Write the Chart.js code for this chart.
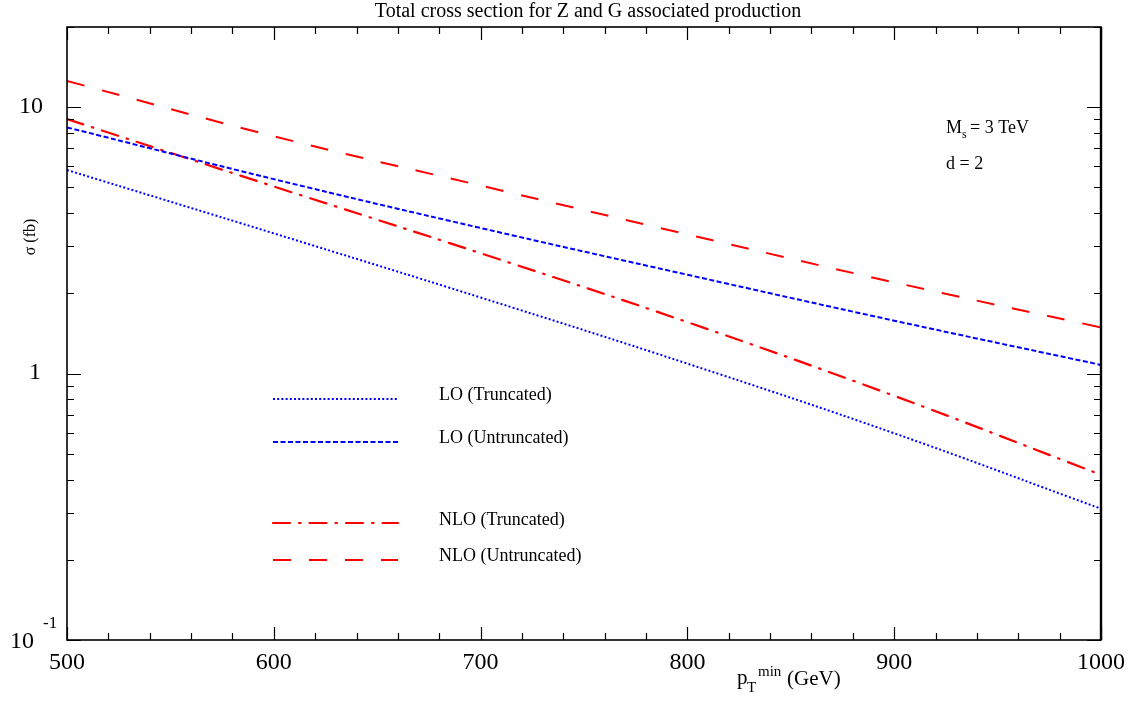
<!DOCTYPE html>
<html>
<head>
<meta charset="utf-8">
<script src="https://cdn.jsdelivr.net/npm/chart.js@4.4.1/dist/chart.umd.min.js"></script>
<style>
html,body{margin:0;padding:0;background:#fff;}
canvas{display:block;}
</style>
</head>
<body>
<canvas id="xsec" width="1135" height="704"></canvas>
<script>
// =============================
// data
// =============================
const ptMin = [500, 600, 700, 800, 900, 1000];

const loTruncated    = [5.81, 3.36, 1.93, 1.09, 0.597, 0.311];
const loUntruncated  = [8.40, 5.37, 3.52, 2.35, 1.58, 1.078];
const nloTruncated   = [9.02, 5.04, 2.83, 1.56, 0.825, 0.417];
const nloUntruncated = [12.55, 7.78, 5.08, 3.33, 2.20, 1.49];

const seriesNames = ["LO (Truncated)", "LO (Untruncated)", "NLO (Truncated)", "NLO (Untruncated)"];

const xMajorTicks = [500, 600, 700, 800, 900, 1000];

const serif = "'Liberation Serif', 'DejaVu Serif', serif";

function toXY(vals){
    return vals.map((v,i)=>({x: ptMin[i], y: v}));
}

// =============================
// frame, ticks, labels, legend
// =============================
const paperPlugin = {
    id: "paper",
    afterDraw(chart){
        const ctx = chart.ctx;
        const a = chart.chartArea;
        const xs = chart.scales.x;
        const ys = chart.scales.y;

        ctx.save();
        ctx.strokeStyle = "#000";
        ctx.lineWidth = 1.6;
        ctx.strokeRect(a.left, a.top, a.right - a.left, a.bottom - a.top);
        // right edge is a bit heavier in the original
        ctx.lineWidth = 2.4;
        ctx.beginPath();
        ctx.moveTo(a.right, a.top); ctx.lineTo(a.right, a.bottom);
        ctx.stroke();

        // x ticks (inward, bottom and top)
        ctx.lineWidth = 1.2;
        for(let v = 500; v <= 1000; v += 20){
            const px = Math.round(xs.getPixelForValue(v)) + 0.5;
            const len = (v % 100 === 0) ? 13 : 7;
            ctx.beginPath();
            ctx.moveTo(px, a.bottom); ctx.lineTo(px, a.bottom - len);
            ctx.moveTo(px, a.top); ctx.lineTo(px, a.top + len);
            ctx.stroke();
        }

        // y ticks (inward, left and right)
        const yTicks = [];
        [0.1, 1, 10].forEach(dec=>{
            for(let k = 1; k <= 9; k++) yTicks.push({v: dec*k, major: k === 1});
        });
        yTicks.forEach(t=>{
            if(t.v > 20) return;
            const py = Math.round(ys.getPixelForValue(t.v)) + 0.5;
            const len = t.major ? 14 : 7;
            ctx.beginPath();
            ctx.moveTo(a.left, py); ctx.lineTo(a.left + len, py);
            ctx.moveTo(a.right, py); ctx.lineTo(a.right - len, py);
            ctx.stroke();
        });

        // tick labels
        ctx.fillStyle = "#000";
        ctx.font = "24px " + serif;
        ctx.textAlign = "center";
        ctx.textBaseline = "middle";
        xMajorTicks.forEach(v=>{
            ctx.fillText(String(v), xs.getPixelForValue(v), 663);
        });

        ctx.textAlign = "right";
        ctx.fillText("10", 43, ys.getPixelForValue(10));
        ctx.fillText("1", 41, ys.getPixelForValue(1) - 1);
        ctx.fillText("10", 34, ys.getPixelForValue(0.1) + 2);
        ctx.font = "17px " + serif;
        ctx.textAlign = "left";
        ctx.fillText("-1", 43, ys.getPixelForValue(0.1) - 16);

        // title
        ctx.font = "20px " + serif;
        ctx.textAlign = "center";
        ctx.fillText("Total cross section for Z and G associated production", 588, 12);

        // y axis label
        ctx.save();
        ctx.translate(31, 237);
        ctx.rotate(-Math.PI/2);
        ctx.font = "16px " + serif;
        ctx.fillText("\u03c3 (fb)", 0, 0);
        ctx.restore();

        // x axis label: p_T^min (GeV)
        ctx.textAlign = "left";
        ctx.textBaseline = "alphabetic";
        ctx.font = "21px " + serif;
        ctx.fillText("p", 737, 684);
        ctx.font = "15px " + serif;
        ctx.fillText("T", 747, 692);
        ctx.fillText("min", 758, 676);
        ctx.font = "21px " + serif;
        ctx.fillText("(GeV)", 787, 685);

        // annotations
        ctx.font = "18px " + serif;
        ctx.fillText("M", 946, 133);
        ctx.font = "12px " + serif;
        ctx.fillText("s", 962, 138);
        ctx.font = "18px " + serif;
        ctx.fillText("= 3 TeV", 970, 133);
        ctx.fillText("d = 2", 946, 169);

        // legend
        const rows = [399, 442, 523, 560];
        const textY = [395, 438, 520, 556];
        chart.data.datasets.forEach((ds,i)=>{
            ctx.save();
            ctx.strokeStyle = ds.borderColor;
            ctx.lineWidth = ds.borderWidth;
            ctx.lineCap = ds.borderCapStyle || "butt";
            ctx.setLineDash(ds.borderDash || []);
            ctx.beginPath();
            ctx.moveTo(273, rows[i]);
            ctx.lineTo(398, rows[i]);
            ctx.stroke();
            ctx.restore();

            ctx.font = "18px " + serif;
            ctx.textBaseline = "middle";
            ctx.fillText(ds.label, 439, textY[i]);
        });

        ctx.restore();
    }
};

new Chart(document.getElementById("xsec"),{
    type:"line",
    data:{
        datasets:[
            {
                label:seriesNames[0],
                data:toXY(loTruncated),
                borderColor:"#0000ff",
                borderWidth:2,
                borderDash:[2, 2.2]
            },
            {
                label:seriesNames[1],
                data:toXY(loUntruncated),
                borderColor:"#0000ff",
                borderWidth:2,
                borderDash:[5, 2.5]
            },
            {
                label:seriesNames[2],
                data:toXY(nloTruncated),
                borderColor:"#ff0000",
                borderWidth:2.2,
                borderCapStyle:"round",
                borderDash:[17, 9, 1.5, 9]
            },
            {
                label:seriesNames[3],
                data:toXY(nloUntruncated),
                borderColor:"#ff0000",
                borderWidth:2,
                borderDash:[18, 18]
            }
        ]
    },
    options:{
        responsive:false,
        animation:false,
        devicePixelRatio:1,
        layout:{padding:{left:67, right:34, top:27, bottom:64}},
        elements:{
            point:{radius:0},
            line:{tension:0.4, fill:false}
        },
        plugins:{
            legend:{display:false},
            title:{display:false},
            tooltip:{enabled:false}
        },
        scales:{
            x:{type:"linear", min:500, max:1000, display:false},
            y:{type:"logarithmic", min:0.1, max:20, display:false}
        }
    },
    plugins:[paperPlugin]
});
</script>
</body>
</html>
